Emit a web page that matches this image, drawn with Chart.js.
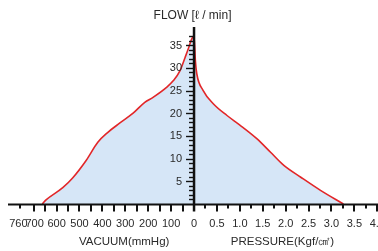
<!DOCTYPE html>
<html>
<head>
<meta charset="utf-8">
<script src="https://cdn.jsdelivr.net/npm/chart.js@4/dist/chart.umd.min.js"></script>
<style>
  html, body { margin: 0; padding: 0; background: #fff; }
  #wrap { width: 378px; height: 251px; position: relative; }
</style>
</head>
<body>
<div id="wrap"><canvas id="c" width="378" height="251"></canvas></div>
<script>
// ---- data ----
const vacuumMmHg = [662, 646, 573, 529, 471, 420, 376, 325, 266, 215, 179, 120, 90, 61, 39, 25, 10, 0];
const vacuumFlow = [0, 0.9, 3.6, 5.8, 9.6, 13.6, 15.8, 17.8, 20.0, 22.4, 23.5, 25.7, 27.2, 29.4, 32.3, 34.2, 36.4, 37.0];
const pressureKgf = [0.03, 0.06, 0.2, 0.42, 0.72, 1.0, 1.37, 1.67, 1.96, 2.33, 2.76, 3.26];
const pressureFlow = [31.5, 28.7, 25.0, 22.1, 19.5, 17.4, 14.4, 11.4, 8.5, 5.9, 3.0, 0];

// ---- tick labels ----
const vacuumTicks = [760, 700, 600, 500, 400, 300, 200, 100, 0];
const pressureTicks = [0.5, 1.0, 1.5, 2.0, 2.5, 3.0, 3.5, 4.0];
const flowTicks = [5, 10, 15, 20, 25, 30, 35];

const titleFlow = 'FLOW [ℓ / min]';
const titleVacuum = 'VACUUM(mmHg)';
const titlePressure = 'PRESSURE(Kgf/㎠)';

// shared horizontal axis: vacuum to the left (mmHg), pressure to the right (1 Kgf/cm² = 200 units)
const PSCALE = 200;
const vx = v => -v;
const px = p => p * PSCALE;

const points = [];
for (let i = 0; i < vacuumMmHg.length; i++) points.push({ x: vx(vacuumMmHg[i]), y: vacuumFlow[i] });
for (let i = 0; i < pressureKgf.length; i++) points.push({ x: px(pressureKgf[i]), y: pressureFlow[i] });
points.sort((a, b) => a.x - b.x);

const FONT = '"Liberation Sans Narrow", "Liberation Sans", Arial, sans-serif';
const TXT = '#2a2a2a';

const axesPlugin = {
  id: 'centerAxes',
  afterDatasetsDraw(chart) {
    const ctx = chart.ctx;
    const xs = chart.scales.x, ys = chart.scales.y;
    const ca = chart.chartArea;
    const x0 = xs.getPixelForValue(0);
    const y0 = ys.getPixelForValue(0);
    ctx.save();
    ctx.strokeStyle = '#111';
    ctx.fillStyle = TXT;

    // baseline
    ctx.lineWidth = 2;
    ctx.beginPath();
    ctx.moveTo(ca.left, y0 + 0.5);
    ctx.lineTo(ca.right, y0 + 0.5);
    ctx.stroke();

    // x ticks: vacuum every 50 mmHg (long), 760 short
    ctx.lineWidth = 2;
    for (let v = 50; v <= 700; v += 50) {
      const x = Math.round(xs.getPixelForValue(vx(v)));
      ctx.beginPath(); ctx.moveTo(x, y0); ctx.lineTo(x, y0 + 7.5); ctx.stroke();
    }
    {
      const x = Math.round(xs.getPixelForValue(vx(760)));
      ctx.beginPath(); ctx.moveTo(x, y0); ctx.lineTo(x, y0 + 4.5); ctx.stroke();
    }
    // pressure: 0.5 long, 0.25 short
    for (let k = 1; k <= 16; k++) {
      const p = k * 0.25;
      const x = Math.round(xs.getPixelForValue(px(p)));
      const len = (k % 2 === 0) ? 7.5 : 4.5;
      ctx.beginPath(); ctx.moveTo(x, y0); ctx.lineTo(x, y0 + len); ctx.stroke();
    }

    // y axis
    ctx.lineWidth = 2.5;
    ctx.beginPath();
    ctx.moveTo(x0, ca.top);
    ctx.lineTo(x0, y0 + 7.5);
    ctx.stroke();

    // y ticks
    ctx.lineWidth = 1.4;
    for (let f = 1; f <= 37; f++) {
      const y = Math.round(ys.getPixelForValue(f)) + 0.5;
      const len = (f % 5 === 0) ? 8 : 5;
      ctx.beginPath(); ctx.moveTo(x0 - len, y); ctx.lineTo(x0, y); ctx.stroke();
    }

    // labels
    ctx.font = '11px ' + FONT;
    ctx.textBaseline = 'middle';
    ctx.textAlign = 'right';
    flowTicks.forEach(f => {
      ctx.fillText(String(f), x0 - 12, ys.getPixelForValue(f) + 0.5);
    });

    ctx.textAlign = 'center';
    const ly = y0 + 20;
    vacuumTicks.forEach(v => {
      let x = xs.getPixelForValue(vx(v));
      if (v === 760) x -= 1.5;
      if (v === 700) x += 1;
      ctx.fillText(String(v), x, ly);
    });
    pressureTicks.forEach(p => {
      ctx.fillText(p.toFixed(1), xs.getPixelForValue(px(p)), ly);
    });

    // titles
    ctx.font = '11.5px ' + FONT;
    ctx.fillText(titleVacuum, xs.getPixelForValue(vx(305)), y0 + 38);
    ctx.fillText(titlePressure, xs.getPixelForValue(px(1.93)), y0 + 38);
    ctx.font = '12px ' + FONT;
    ctx.fillText(titleFlow, x0 - 1.5, 16);
    ctx.restore();
  }
};

new Chart(document.getElementById('c'), {
  type: 'line',
  data: {
    datasets: [{
      data: points,
      borderColor: 'rgb(226,38,40)',
      borderWidth: 1.6,
      backgroundColor: 'rgb(214,230,247)',
      fill: 'origin',
      pointRadius: 0,
      cubicInterpolationMode: 'monotone'
    }]
  },
  options: {
    responsive: false,
    animation: false,
    devicePixelRatio: 1,
    layout: { padding: { left: 8, right: 0, top: 27, bottom: 47 } },
    plugins: { legend: { display: false }, tooltip: { enabled: false } },
    scales: {
      x: { type: 'linear', display: false, min: -812, max: 803 },
      y: { type: 'linear', display: false, min: 0, max: 39 }
    }
  },
  plugins: [axesPlugin]
});
</script>
</body>
</html>
